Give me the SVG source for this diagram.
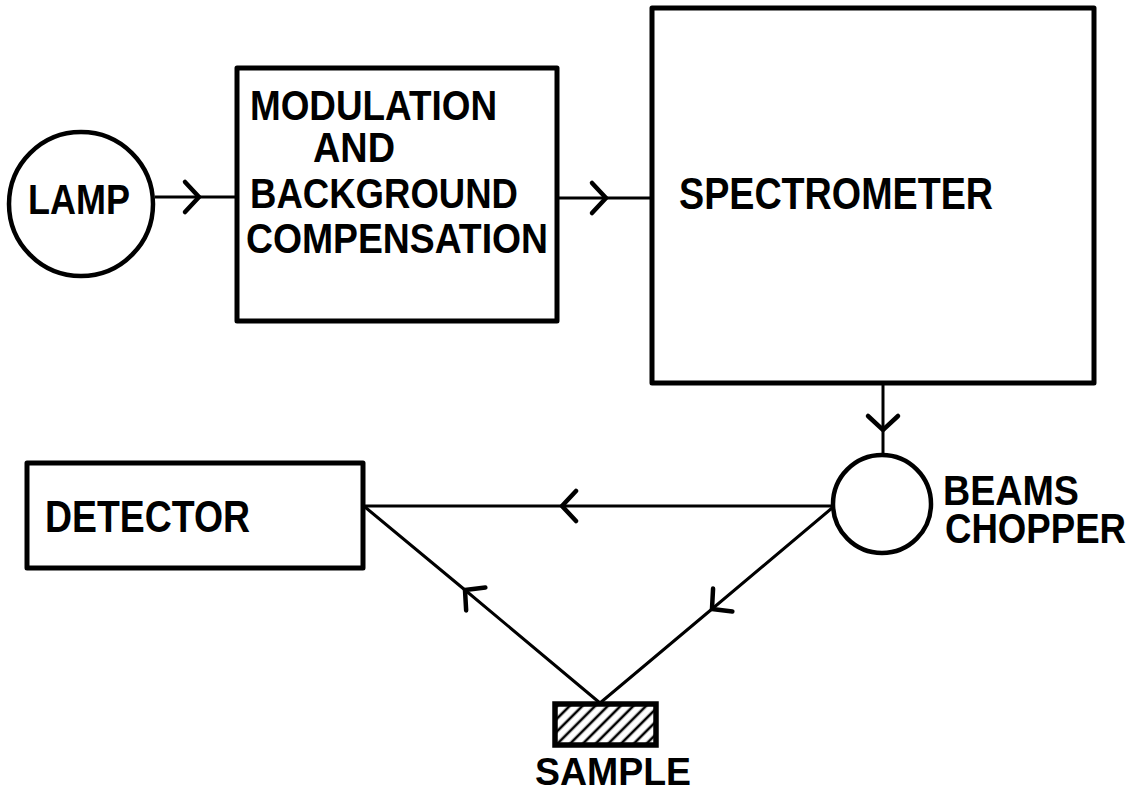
<svg xmlns="http://www.w3.org/2000/svg" width="1140" height="798" viewBox="0 0 1140 798">
<style>
.box{fill:none;stroke:#000;stroke-width:5;stroke-linejoin:round}
.ring{fill:none;stroke:#000;stroke-width:4.5}
.wire{fill:none;stroke:#000;stroke-width:3;marker-mid:url(#chev)}
.lbl{font-family:"Liberation Sans",Arial,sans-serif;font-weight:bold;fill:#000}
</style>
<defs>
<marker id="chev" markerUnits="userSpaceOnUse" viewBox="-25 -25 50 50" markerWidth="50" markerHeight="50" refX="0" refY="0" orient="auto" overflow="visible">
<path d="M-14,-15 L0,0 L-14,15" fill="none" stroke="#000" stroke-width="4.5" stroke-linecap="round" stroke-linejoin="miter"/>
</marker>
<pattern id="hatch" width="9" height="9" patternUnits="userSpaceOnUse" patternTransform="rotate(45)">
<line x1="2" y1="0" x2="2" y2="9" stroke="#000" stroke-width="2.6"/>
</pattern>
</defs>
<rect width="1140" height="798" fill="#fff"/>
<g id="connectors">
<path class="wire" d="M155,197 L199,197 L237,197"/>
<path class="wire" d="M557,198 L606,198 L652,198"/>
<path class="wire" d="M883,383 L883,430 L883,455"/>
<path class="wire" d="M833,506 L562,506 L363,506"/>
<path class="wire" d="M832,508 L712,609 L600,703"/>
<path class="wire" d="M600,703 L465,590 L365,507"/>
</g>
<g id="lamp">
<circle class="ring" cx="81" cy="204" r="72"/>
<text class="lbl" x="28" y="214" font-size="43" textLength="102" lengthAdjust="spacingAndGlyphs">LAMP</text>
</g>
<g id="modulation">
<rect class="box" x="237" y="68" width="320" height="253"/>
<text class="lbl" x="250" y="120" font-size="43" textLength="247" lengthAdjust="spacingAndGlyphs">MODULATION</text>
<text class="lbl" x="313" y="162" font-size="43" textLength="82" lengthAdjust="spacingAndGlyphs">AND</text>
<text class="lbl" x="250" y="208" font-size="43" textLength="268" lengthAdjust="spacingAndGlyphs">BACKGROUND</text>
<text class="lbl" x="246" y="253" font-size="43" textLength="302" lengthAdjust="spacingAndGlyphs">COMPENSATION</text>
</g>
<g id="spectrometer">
<rect class="box" x="652" y="8" width="442" height="375"/>
<text class="lbl" x="679" y="209" font-size="44" textLength="314" lengthAdjust="spacingAndGlyphs">SPECTROMETER</text>
</g>
<g id="chopper">
<circle class="ring" cx="882" cy="504" r="49"/>
<text class="lbl" x="943" y="505" font-size="43" textLength="136" lengthAdjust="spacingAndGlyphs">BEAMS</text>
<text class="lbl" x="945" y="543" font-size="43" textLength="181" lengthAdjust="spacingAndGlyphs">CHOPPER</text>
</g>
<g id="detector">
<rect class="box" x="27" y="463" width="336" height="105"/>
<text class="lbl" x="45" y="532" font-size="45" textLength="205" lengthAdjust="spacingAndGlyphs">DETECTOR</text>
</g>
<g id="sample">
<rect x="555" y="704" width="101" height="41" fill="url(#hatch)" stroke="#000" stroke-width="5.5"/>
<text class="lbl" x="535" y="785" font-size="39" textLength="156" lengthAdjust="spacingAndGlyphs">SAMPLE</text>
</g>
</svg>
